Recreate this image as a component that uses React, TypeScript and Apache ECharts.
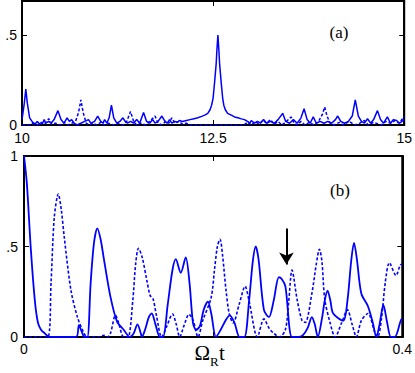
import { useEffect, useRef } from 'react';
import * as echarts from 'echarts';

// Panel (a): spectrum, x = frequency (10..15)
const specSolid: [number, number][] = [
  [10.0, 0.03], [10.03, 0.12], [10.05, 0.2], [10.07, 0.12], [10.1, 0.04], [10.14, 0.015], [10.17, 0.005],
  [10.2, 0.02], [10.23, 0.005], [10.27, 0.01], [10.29, 0.03], [10.31, 0.01], [10.35, 0.02], [10.38, 0.01],
  [10.42, 0.03], [10.47, 0.08], [10.51, 0.03], [10.55, 0.01], [10.59, 0.04], [10.62, 0.02], [10.65, 0.03],
  [10.68, 0.01], [10.72, 0.0], [10.77, 0.01], [10.82, 0.02], [10.87, 0.03], [10.9, 0.01], [10.95, 0.02],
  [10.99, 0.05], [11.03, 0.02], [11.06, 0.01], [11.08, 0.03], [11.11, 0.01], [11.14, 0.04], [11.17, 0.11],
  [11.2, 0.04], [11.24, 0.01], [11.28, 0.02], [11.32, 0.04], [11.35, 0.02], [11.38, 0.01], [11.42, 0.02],
  [11.46, 0.01], [11.5, 0.03], [11.54, 0.01], [11.59, 0.07], [11.63, 0.02], [11.67, 0.01], [11.71, 0.03],
  [11.74, 0.01], [11.78, 0.02], [11.83, 0.05], [11.87, 0.02], [11.9, 0.01], [11.93, 0.03], [11.96, 0.01],
  [12.0, 0.02], [12.03, 0.015], [12.06, 0.025], [12.1, 0.02], [12.15, 0.025], [12.2, 0.03], [12.25, 0.035],
  [12.3, 0.04], [12.35, 0.048], [12.39, 0.055], [12.43, 0.065], [12.46, 0.085], [12.48, 0.11], [12.5, 0.15],
  [12.52, 0.24], [12.54, 0.34], [12.55, 0.42], [12.563, 0.5], [12.575, 0.42], [12.585, 0.34], [12.607, 0.23],
  [12.625, 0.15], [12.64, 0.11], [12.66, 0.085], [12.69, 0.065], [12.738, 0.055], [12.78, 0.045],
  [12.824, 0.04], [12.87, 0.034], [12.91, 0.03], [12.95, 0.02], [12.98, 0.01], [13.0, 0.025], [13.04, 0.01],
  [13.08, 0.02], [13.12, 0.01], [13.16, 0.03], [13.2, 0.01], [13.25, 0.02], [13.3, 0.01], [13.35, 0.03],
  [13.41, 0.065], [13.45, 0.02], [13.5, 0.01], [13.55, 0.03], [13.6, 0.01], [13.65, 0.04], [13.69, 0.09],
  [13.73, 0.03], [13.77, 0.01], [13.81, 0.045], [13.85, 0.01], [13.9, 0.02], [13.95, 0.01], [14.0, 0.02],
  [14.05, 0.01], [14.1, 0.03], [14.13, 0.05], [14.17, 0.02], [14.22, 0.01], [14.27, 0.02], [14.32, 0.05],
  [14.36, 0.14], [14.4, 0.05], [14.44, 0.02], [14.48, 0.01], [14.52, 0.035], [14.56, 0.01], [14.6, 0.03],
  [14.65, 0.08], [14.69, 0.03], [14.73, 0.01], [14.78, 0.045], [14.82, 0.01], [14.86, 0.03], [14.9, 0.025],
  [14.94, 0.01], [14.97, 0.02], [15.0, 0.03],
];

const specDashed: [number, number][] = [
  [10.0, 0.0], [10.1, 0.0], [10.15, 0.01], [10.2, 0.0], [10.25, 0.015], [10.3, 0.005], [10.35, 0.035],
  [10.39, 0.005], [10.44, 0.01], [10.5, 0.0], [10.55, 0.015], [10.6, 0.0], [10.65, 0.01], [10.7, 0.02],
  [10.74, 0.07], [10.77, 0.14], [10.8, 0.07], [10.84, 0.01], [10.88, 0.0], [10.93, 0.01], [10.98, 0.0],
  [11.03, 0.015], [11.08, 0.0], [11.13, 0.01], [11.2, 0.0], [11.26, 0.01], [11.32, 0.0], [11.37, 0.02],
  [11.42, 0.075], [11.46, 0.02], [11.5, 0.0], [11.55, 0.01], [11.62, 0.0], [11.67, 0.02], [11.74, 0.05],
  [11.78, 0.01], [11.83, 0.0], [11.88, 0.02], [11.92, 0.01], [11.96, 0.04], [12.0, 0.01], [12.05, 0.02],
  [12.1, 0.005], [12.15, 0.01], [12.2, 0.0], [12.9, 0.0], [12.95, 0.015], [13.0, 0.0], [13.05, 0.02],
  [13.1, 0.005], [13.15, 0.025], [13.2, 0.01], [13.25, 0.03], [13.3, 0.005], [13.35, 0.02], [13.4, 0.0],
  [13.46, 0.02], [13.52, 0.045], [13.56, 0.01], [13.6, 0.0], [13.65, 0.02], [13.7, 0.0], [13.76, 0.015],
  [13.82, 0.0], [13.88, 0.02], [13.93, 0.06], [13.96, 0.1], [13.99, 0.05], [14.03, 0.01], [14.08, 0.0],
  [14.15, 0.015], [14.2, 0.0], [14.28, 0.02], [14.35, 0.0], [14.42, 0.01], [14.48, 0.025], [14.53, 0.0],
  [14.6, 0.015], [14.7, 0.0], [14.76, 0.02], [14.82, 0.01], [14.88, 0.025], [14.93, 0.01], [14.97, 0.03],
  [15.0, 0.05],
];

// Panel (b): time traces, x = Omega_R t (0..0.4)
const timeSolid: [number, number][] = [
  [0, 1.0], [0.003, 0.85], [0.0073, 0.48], [0.0115, 0.2], [0.0147, 0.08], [0.018, 0.04], [0.022, 0.02],
  [0.027, 0.0], [0.055, 0.0], [0.058, 0.066], [0.061, 0.03], [0.064, 0.0], [0.067, 0.0], [0.0705, 0.3],
  [0.074, 0.52], [0.0775, 0.6], [0.081, 0.54], [0.0845, 0.43], [0.0915, 0.22], [0.0984, 0.085],
  [0.1054, 0.04], [0.112, 0.0], [0.116, 0.02], [0.12, 0.07], [0.1235, 0.02], [0.1246, 0.0], [0.128, 0.04],
  [0.132, 0.11], [0.135, 0.13], [0.139, 0.07], [0.1438, 0.0], [0.147, 0.0], [0.152, 0.18], [0.157, 0.37],
  [0.1605, 0.43], [0.1658, 0.355], [0.171, 0.44], [0.175, 0.3], [0.1787, 0.077], [0.182, 0.04],
  [0.186, 0.06], [0.19, 0.15], [0.1944, 0.195], [0.198, 0.13], [0.203, 0.0], [0.208, 0.04], [0.213, 0.09],
  [0.2175, 0.12], [0.2227, 0.077], [0.228, 0.0], [0.233, 0.0], [0.238, 0.2], [0.242, 0.42], [0.245, 0.5],
  [0.248, 0.43], [0.2537, 0.15], [0.259, 0.11], [0.264, 0.2], [0.2695, 0.33], [0.2725, 0.32],
  [0.2764, 0.28], [0.2834, 0.0], [0.29, 0.0], [0.295, 0.01], [0.3, 0.05], [0.3044, 0.11], [0.3075, 0.07],
  [0.3107, 0.0], [0.315, 0.1], [0.318, 0.2], [0.321, 0.256], [0.324, 0.2], [0.327, 0.13], [0.3375, 0.09],
  [0.342, 0.2], [0.346, 0.42], [0.349, 0.52], [0.352, 0.43], [0.3567, 0.24], [0.3637, 0.17], [0.369, 0.076],
  [0.3725, 0.0], [0.376, 0.07], [0.38, 0.177], [0.384, 0.08], [0.388, 0.0], [0.392, 0.0], [0.3986, 0.094],
  [0.4, 0.1],
];

const timeDashed: [number, number][] = [
  [0, 0.0], [0.025, 0.0], [0.0286, 0.3], [0.032, 0.66], [0.0363, 0.79], [0.0395, 0.7], [0.0426, 0.55],
  [0.0496, 0.26], [0.0565, 0.11], [0.0635, 0.02], [0.067, 0.0], [0.08, 0.0], [0.0845, 0.01], [0.088, 0.0],
  [0.0914, 0.02], [0.0967, 0.12], [0.1, 0.08], [0.1054, 0.0], [0.11, 0.0], [0.115, 0.2], [0.118, 0.4],
  [0.121, 0.49], [0.125, 0.44], [0.13, 0.31], [0.1333, 0.23], [0.1365, 0.21], [0.14, 0.12], [0.1456, 0.0],
  [0.151, 0.06], [0.157, 0.127], [0.161, 0.07], [0.1647, 0.0], [0.169, 0.06], [0.1745, 0.125], [0.179, 0.09],
  [0.184, 0.0], [0.189, 0.09], [0.198, 0.22], [0.2014, 0.37], [0.2045, 0.5], [0.2073, 0.54], [0.21, 0.45],
  [0.2136, 0.26], [0.217, 0.13], [0.2212, 0.077], [0.2275, 0.18], [0.2338, 0.28], [0.238, 0.2],
  [0.2468, 0.0], [0.2537, 0.1], [0.259, 0.05], [0.2642, 0.02], [0.27, 0.0], [0.2764, 0.04], [0.28, 0.2],
  [0.2834, 0.37], [0.2887, 0.21], [0.294, 0.09], [0.2974, 0.08], [0.3044, 0.24], [0.309, 0.4],
  [0.3124, 0.485], [0.315, 0.42], [0.318, 0.21], [0.3236, 0.08], [0.329, 0.0], [0.336, 0.08], [0.342, 0.15],
  [0.347, 0.07], [0.3515, 0.0], [0.3567, 0.09], [0.3637, 0.13], [0.3707, 0.03], [0.374, 0.0], [0.378, 0.1],
  [0.382, 0.3], [0.3864, 0.41], [0.3934, 0.34], [0.3986, 0.4], [0.4, 0.4],
];

const topYTicks = [0, 0.5];
const topYLabels = ['0', '.5'];
const bottomYTicks = [0, 0.5, 1];
const bottomYLabels = ['0', '.5', '1'];
const bottomXLabels: Record<string, string> = { '0': '0', '0.4': '0.4' };
const arrowAt: [number, number, number] = [0.2775, 0.6, 0.4]; // t, from, to

const BLUE = '#0000ff';
const SANS = '"Liberation Sans", Arial, sans-serif';
const SERIF = '"Liberation Serif", "Times New Roman", serif';

export default function App() {
  const ref = useRef<HTMLDivElement>(null);
  useEffect(() => {
    const chart = echarts.init(ref.current!, null, { renderer: 'svg' });
    const axisLine = { show: true, onZero: false, lineStyle: { color: '#000', width: 2 } };
    const tick = { show: true, inside: true, length: 5, lineStyle: { color: '#000', width: 1 } };
    const label = { color: '#000', fontSize: 14, lineHeight: 12, fontFamily: SANS };
    chart.setOption({
      animation: false,
      grid: [
        { left: 22, top: 1, width: 383, height: 124, show: true, borderColor: '#000', borderWidth: 2 },
        { left: 24, top: 156, width: 382, height: 181, show: true, borderColor: '#000', borderWidth: 2 },
      ],
      xAxis: [
        {
          gridIndex: 0, type: 'value', min: 10, max: 15, interval: 2.5, axisLine, axisTick: tick,
          splitLine: { show: false },
          axisLabel: { ...label, margin: 7, formatter: (v: number) => String(v) },
        },
        {
          gridIndex: 0, type: 'value', position: 'top', min: 10, max: 15, interval: 2.5, axisLine, axisTick: tick,
          splitLine: { show: false }, axisLabel: { show: false },
        },
        {
          gridIndex: 1, type: 'value', min: 0, max: 0.4, interval: 0.2, axisLine, axisTick: tick,
          splitLine: { show: false },
          axisLabel: { ...label, margin: 6, formatter: (v: number) => bottomXLabels[String(v)] ?? '' },
        },
        {
          gridIndex: 1, type: 'value', position: 'top', min: 0, max: 0.4, interval: 0.2, axisLine, axisTick: tick,
          splitLine: { show: false }, axisLabel: { show: false },
        },
      ],
      yAxis: [
        {
          gridIndex: 0, type: 'value', min: 0, max: 0.69, axisLine,
          axisTick: { ...tick, customValues: topYTicks },
          splitLine: { show: false },
          axisLabel: {
            ...label, margin: 5, customValues: topYTicks,
            formatter: (v: number) => topYLabels[topYTicks.indexOf(v)] ?? '',
          },
        },
        {
          gridIndex: 0, type: 'value', position: 'right', min: 0, max: 0.69, axisLine,
          axisTick: { ...tick, customValues: [0.5] }, splitLine: { show: false }, axisLabel: { show: false },
        },
        {
          gridIndex: 1, type: 'value', min: 0, max: 1, interval: 0.5, axisLine, axisTick: tick,
          splitLine: { show: false },
          axisLabel: {
            ...label, margin: 6,
            formatter: (v: number) => bottomYLabels[bottomYTicks.indexOf(v)] ?? '',
          },
        },
        {
          gridIndex: 1, type: 'value', position: 'right', min: 0, max: 1, interval: 0.5, axisLine, axisTick: tick,
          splitLine: { show: false }, axisLabel: { show: false },
        },
      ],
      series: [
        {
          type: 'line', xAxisIndex: 0, yAxisIndex: 0, data: specDashed, showSymbol: false, z: 3,
          lineStyle: { color: BLUE, width: 1.5, type: [3, 2] },
        },
        {
          type: 'line', xAxisIndex: 0, yAxisIndex: 0, data: specSolid, showSymbol: false, z: 4,
          lineStyle: { color: BLUE, width: 1.5 },
        },
        {
          type: 'line', xAxisIndex: 2, yAxisIndex: 2, data: timeDashed, showSymbol: false, z: 3,
          smooth: 0.3, lineStyle: { color: BLUE, width: 1.6, type: [3, 2] },
        },
        {
          type: 'line', xAxisIndex: 2, yAxisIndex: 2, data: timeSolid, showSymbol: false, z: 4,
          smooth: 0.3, lineStyle: { color: BLUE, width: 1.8 },
          markLine: {
            silent: true, animation: false,
            symbol: ['none', 'arrow'], symbolSize: [11, 12],
            lineStyle: { color: '#000', width: 2, type: 'solid' },
            label: { show: false },
            data: [[{ coord: [arrowAt[0], arrowAt[1]] }, { coord: [arrowAt[0], arrowAt[2]] }]],
          },
        },
      ],
      graphic: [
        { type: 'text', x: 339, y: 32, style: { text: '(a)', fontSize: 17, fontFamily: SERIF, fill: '#000', align: 'center', verticalAlign: 'middle' } },
        { type: 'text', x: 340, y: 190, style: { text: '(b)', fontSize: 17, fontFamily: SERIF, fill: '#000', align: 'center', verticalAlign: 'middle' } },
        { type: 'text', x: 210, y: 363, style: { text: 'Ω', fontSize: 21, fontFamily: SERIF, fill: '#000', align: 'right', verticalAlign: 'bottom' } },
        { type: 'text', x: 210, y: 368, style: { text: 'R', fontSize: 13, fontFamily: SERIF, fill: '#000', align: 'left', verticalAlign: 'bottom' } },
        { type: 'text', x: 219, y: 363, style: { text: 't', fontSize: 21, fontFamily: SERIF, fill: '#000', align: 'left', verticalAlign: 'bottom' } },
      ],
    });
    return () => chart.dispose();
  }, []);
  return <div ref={ref} style={{ position: 'absolute', left: 0, top: 0, width: 415, height: 373 }} />;
}
